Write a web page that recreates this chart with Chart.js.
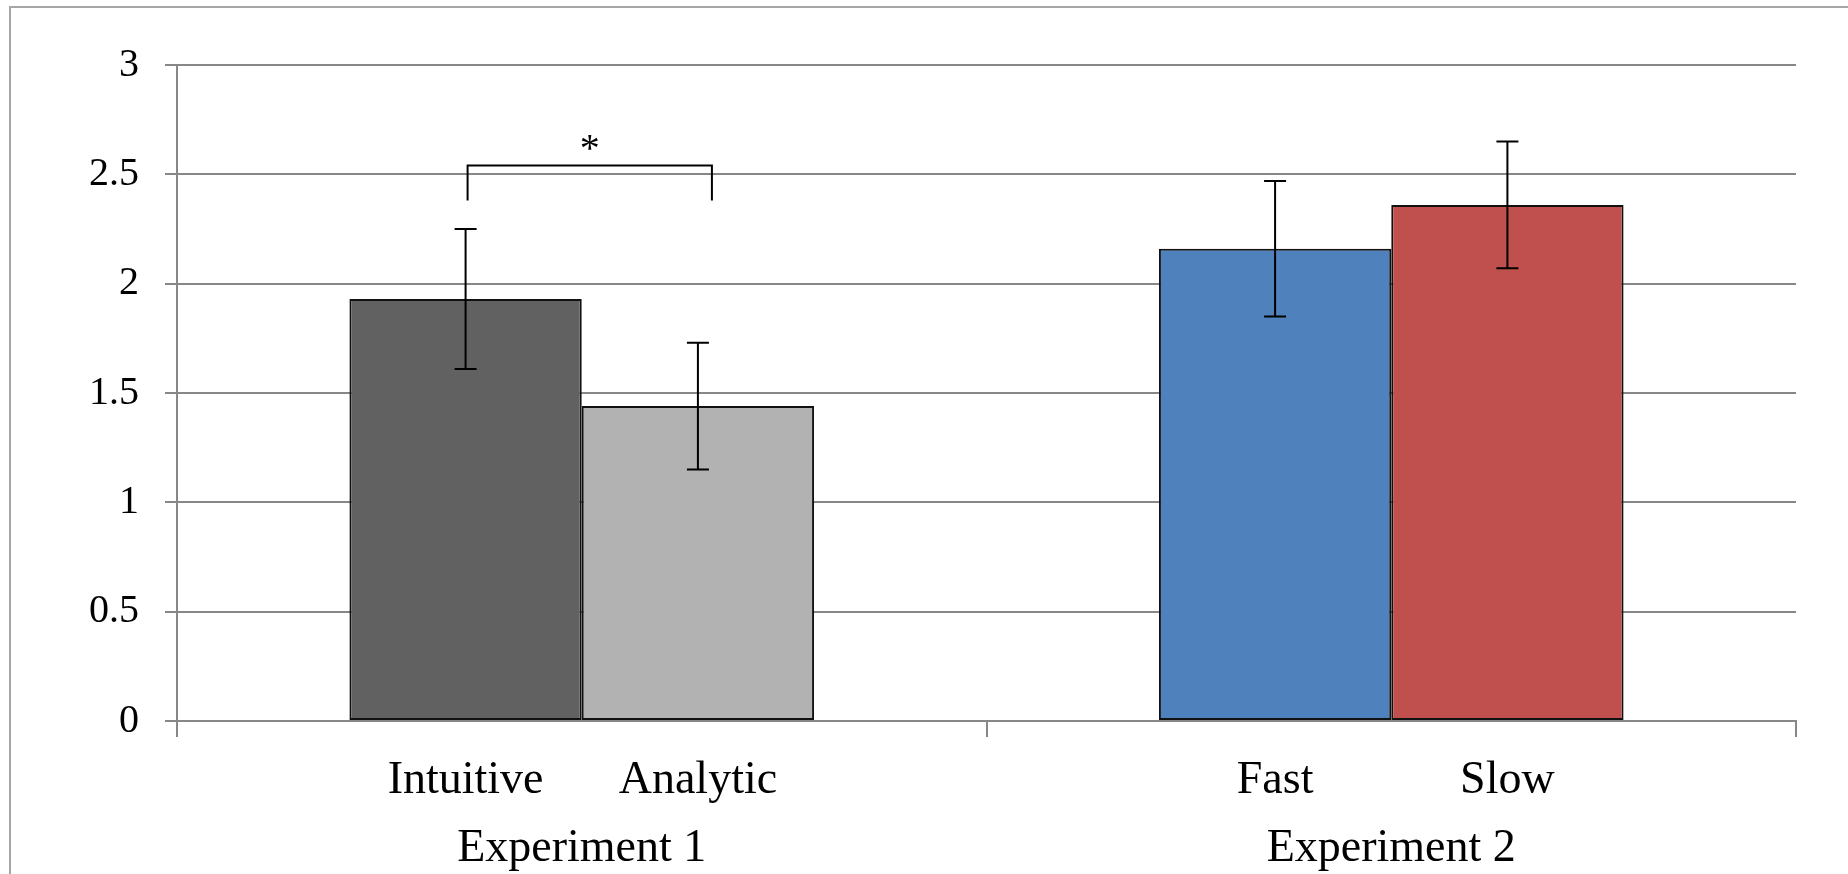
<!DOCTYPE html>
<html>
<head>
<meta charset="utf-8">
<script src="https://cdn.jsdelivr.net/npm/chart.js@4.4.1/dist/chart.umd.min.js"></script>
<style>
  html, body { margin: 0; padding: 0; background: #fff; overflow: hidden; }
  #frame { position: absolute; left: 9px; top: 6px; width: 1900px; height: 1000px; border: 2px solid #a6a6a6; }
  #chart { position: absolute; left: 0; top: 0; }
</style>
</head>
<body>
<div id="frame"></div>
<canvas id="chart" width="1848" height="874"></canvas>
<script>
// DATA
const groups = ['Experiment 1', 'Experiment 2'];
const firstLabels = ['Intuitive', 'Fast'];
const secondLabels = ['Analytic', 'Slow'];
const firstValues = [1.93, 2.16];
const secondValues = [1.44, 2.36];
const firstErrors = [0.32, 0.31];
const secondErrors = [0.29, 0.29];
const firstColors = ['#616161', '#4f81bd'];
const secondColors = ['#b2b2b2', '#c0504d'];
// significance bracket between Intuitive and Analytic
const bracketTop = 2.54;
const bracketBottom = 2.38;
const bracketMark = '*';

const GRID = '#878787';
const SERIF = '"Liberation Serif", "Times New Roman", serif';

const extras = {
  id: 'extras',
  afterDatasetsDraw(chart) {
    const ctx = chart.ctx;
    const y = chart.scales.y;
    const x = chart.scales.x;
    const sets = [
      { meta: chart.getDatasetMeta(0), vals: firstValues, errs: firstErrors, labels: firstLabels },
      { meta: chart.getDatasetMeta(1), vals: secondValues, errs: secondErrors, labels: secondLabels }
    ];
    ctx.save();
    // error bars
    ctx.strokeStyle = '#000';
    ctx.lineWidth = 2;
    sets.forEach(s => {
      s.meta.data.forEach((bar, i) => {
        const top = y.getPixelForValue(s.vals[i] + s.errs[i]);
        const bot = y.getPixelForValue(s.vals[i] - s.errs[i]);
        ctx.beginPath();
        ctx.moveTo(bar.x, top); ctx.lineTo(bar.x, bot);
        ctx.moveTo(bar.x - 11, top); ctx.lineTo(bar.x + 11, top);
        ctx.moveTo(bar.x - 11, bot); ctx.lineTo(bar.x + 11, bot);
        ctx.stroke();
      });
    });
    // sub-category labels
    ctx.fillStyle = '#000';
    ctx.font = '46px ' + SERIF;
    ctx.textAlign = 'center';
    ctx.textBaseline = 'middle';
    sets.forEach(s => {
      s.meta.data.forEach((bar, i) => {
        ctx.fillText(s.labels[i], bar.x, x.top + 60);
      });
    });
    // bracket
    const b0 = sets[0].meta.data[0];
    const b1 = sets[1].meta.data[0];
    const lx = b0.x + 2;
    const rx = b1.x + 14;
    const ty = y.getPixelForValue(bracketTop);
    const by = y.getPixelForValue(bracketBottom);
    ctx.beginPath();
    ctx.moveTo(lx, by); ctx.lineTo(lx, ty); ctx.lineTo(rx, ty); ctx.lineTo(rx, by);
    ctx.stroke();
    ctx.font = '40px ' + SERIF;
    ctx.textBaseline = 'alphabetic';
    ctx.fillText(bracketMark, (lx + rx) / 2, ty - 5);
    ctx.restore();
  }
};

new Chart(document.getElementById('chart'), {
  type: 'bar',
  data: {
    labels: groups,
    datasets: [
      { data: firstValues, backgroundColor: firstColors, borderColor: '#111', borderWidth: 2, borderSkipped: false },
      { data: secondValues, backgroundColor: secondColors, borderColor: '#111', borderWidth: 2, borderSkipped: false }
    ]
  },
  options: {
    responsive: false,
    animation: false,
    devicePixelRatio: 1,
    layout: { padding: { left: 0, right: 52, top: 65, bottom: 0 } },
    plugins: { legend: { display: false }, tooltip: { enabled: false } },
    datasets: { bar: { barPercentage: 1, categoryPercentage: 0.574 } },
    scales: {
      x: {
        grid: { display: true, drawOnChartArea: false, color: GRID, lineWidth: 2, tickLength: 16 },
        border: { display: true, color: GRID, width: 2 },
        ticks: { color: '#000', font: { family: SERIF, size: 46 }, padding: 84, maxRotation: 0 },
        afterFit(scale) { scale.height = 153; }
      },
      y: {
        min: 0,
        max: 3,
        ticks: {
          stepSize: 0.5, color: '#000', font: { family: SERIF, size: 40 }, padding: 26,
          callback: v => String(v)
        },
        grid: { color: GRID, lineWidth: 2, tickLength: 12 },
        border: { display: true, color: GRID, width: 2 },
        afterFit(scale) { scale.width = 177; }
      }
    }
  },
  plugins: [extras]
});
</script>
</body>
</html>
